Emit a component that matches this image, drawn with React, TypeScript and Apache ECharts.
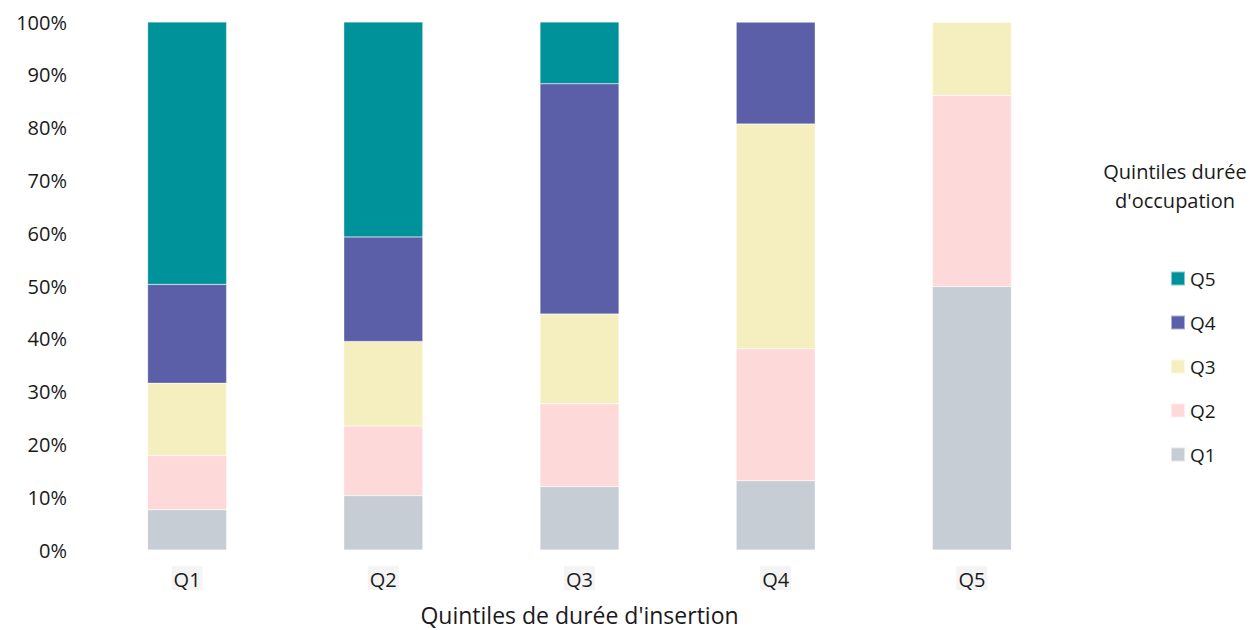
import React, { useEffect, useRef } from "react";
import * as echarts from "echarts";

// Quintiles of insertion duration (x) broken down by quintiles of occupation duration (stacked, %)
const categories = ["Q1", "Q2", "Q3", "Q4", "Q5"];
const seriesNames = ["Q1", "Q2", "Q3", "Q4", "Q5"];
const occQ1 = [7.6, 10.3, 12.0, 13.1, 49.9];
const occQ2 = [10.3, 13.2, 15.7, 25.0, 36.2];
const occQ3 = [13.7, 16.0, 17.0, 42.6, 13.9];
const occQ4 = [18.7, 19.8, 43.6, 19.3, 0];
const occQ5 = [49.7, 40.7, 11.7, 0, 0];
const colors = ["#C6CDD5", "#FDD9D9", "#F5EFC0", "#5B5FA7", "#00929A"];
const legendTitle = "Quintiles durée\nd'occupation";
const xAxisTitle = "Quintiles de durée d'insertion";

const FONT = "'Open Sans', sans-serif";

export default function App() {
  const ref = useRef<HTMLDivElement>(null);

  useEffect(() => {
    if (!ref.current) return;
    const chart = echarts.init(ref.current, undefined, { renderer: "svg" });
    const values = [occQ1, occQ2, occQ3, occQ4, occQ5];
    chart.setOption({
      animation: false,
      textStyle: { fontFamily: FONT },
      grid: {
        left: 89,
        right: 186,
        top: 22,
        bottom: 80,
        containLabel: false,
        outerBoundsMode: "none",
      },
      graphic: [
        {
          type: "text",
          x: 1175,
          y: 157,
          style: {
            text: legendTitle,
            font: `20px ${FONT}`,
            fill: "#1a1a1a",
            textAlign: "center",
            textVerticalAlign: "top",
            lineHeight: 29,
          },
        },
      ],
      legend: {
        orient: "vertical",
        left: 1165,
        top: 264,
        itemWidth: 14,
        itemHeight: 14,
        itemGap: 25,
        icon: "rect",
        data: ["Q5", "Q4", "Q3", "Q2", "Q1"],
        textStyle: { fontSize: 19, color: "#1a1a1a", fontFamily: FONT },
      },
      xAxis: {
        type: "category",
        data: categories,
        axisLine: { show: false },
        axisTick: { show: false },
        axisLabel: {
          fontSize: 20,
          color: "#1a1a1a",
          margin: 16,
          backgroundColor: "#F4F4F4",
          padding: [3, 2, 1, 2],
        },
        name: xAxisTitle,
        nameLocation: "middle",
        nameGap: 53,
        nameTextStyle: { fontSize: 23, color: "#1a1a1a" },
      },
      yAxis: {
        type: "value",
        min: 0,
        max: 100,
        interval: 10,
        splitLine: { show: false },
        axisLine: { show: false },
        axisTick: { show: false },
        axisLabel: {
          formatter: "{value}%",
          fontSize: 20,
          color: "#1a1a1a",
          margin: 22,
        },
      },
      series: seriesNames.map((name, i) => ({
        name,
        type: "bar",
        stack: "total",
        barWidth: 79,
        data: values[i],
        itemStyle: { color: colors[i], borderColor: "rgba(255,255,255,0.5)", borderWidth: 0.5 },
      })),
    });
    return () => chart.dispose();
  }, []);

  return (
    <div
      ref={ref}
      style={{ position: "absolute", left: 0, top: 0, width: 1256, height: 630, background: "#fff" }}
    />
  );
}
